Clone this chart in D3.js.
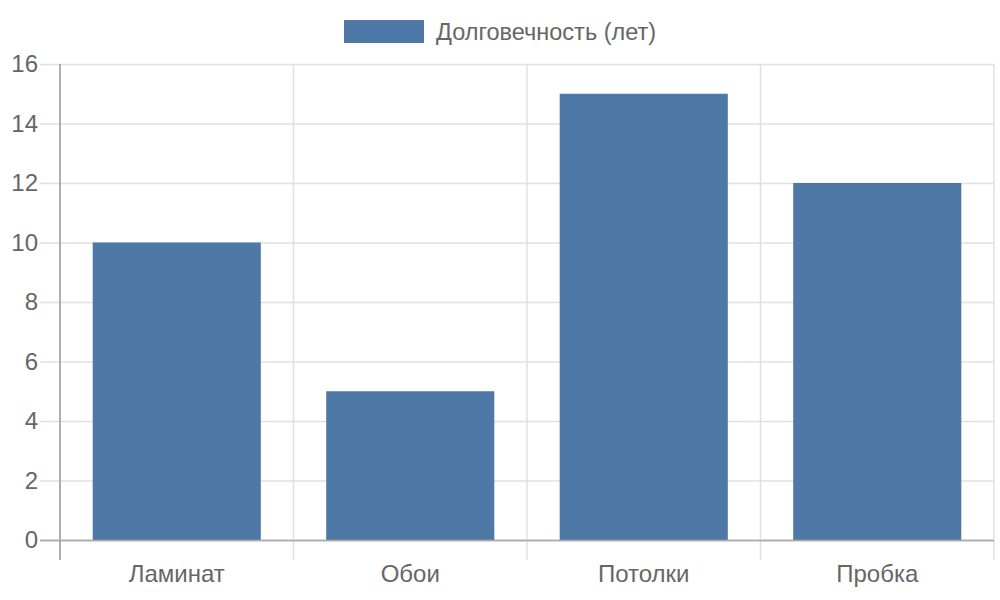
<!DOCTYPE html>
<html><head><meta charset="utf-8">
<script src="https://cdn.jsdelivr.net/npm/d3@7"></script>
<style>body{margin:0;background:#fff}text{font-family:"Liberation Sans",Arial,sans-serif}</style>
</head><body><svg id="c" width="1000" height="600"></svg>
<script>
const categories = ["Ламинат", "Обои", "Потолки", "Пробка"];
const values = [10, 5, 15, 12];
const seriesName = "Долговечность (лет)";
const yTicks = [0, 2, 4, 6, 8, 10, 12, 14, 16];

const svg = d3.select("#c");
const L = 60, R = 994, T = 64, B = 540;
const color = "#4e79a7";
const x = d3.scaleBand().domain(categories).range([L, R]).paddingInner(0).paddingOuter(0);
const y = d3.scaleLinear().domain([0, 16]).range([B, T]);

// horizontal grid
svg.append("g").selectAll("line").data(yTicks).join("line")
  .attr("x1", L - 20).attr("x2", R).attr("y1", d => y(d) + 0.5).attr("y2", d => y(d) + 0.5)
  .attr("stroke", d => d === 0 ? "#aaa" : "#e0e0e0").attr("stroke-width", 1.5);
// vertical grid
const vx = categories.map(c => x(c)).concat([R]);
svg.append("g").selectAll("line").data(vx).join("line")
  .attr("x1", d => d).attr("x2", d => d).attr("y1", T).attr("y2", B + 20)
  .attr("stroke", (d, i) => i === 0 ? "#aaa" : "#e0e0e0").attr("stroke-width", 1.5);
svg.append("line").attr("x1", L).attr("x2", L).attr("y1", T).attr("y2", B + 20).attr("stroke", "#aaa").attr("stroke-width", 1.5);

// bars
const bw = x.bandwidth() * 0.72;
svg.append("g").selectAll("rect").data(values).join("rect")
  .attr("x", (d, i) => x(categories[i]) + (x.bandwidth() - bw) / 2)
  .attr("width", bw)
  .attr("y", d => y(d)).attr("height", d => y(0) - y(d))
  .attr("fill", color);
svg.append("line").attr("x1", L - 20).attr("x2", R).attr("y1", B + 0.5).attr("y2", B + 0.5).attr("stroke", "#aaa").attr("stroke-width", 1.5);

// y labels
svg.append("g").selectAll("text").data(yTicks).join("text")
  .attr("x", 38).attr("y", d => y(d)).attr("dy", "0.35em").attr("text-anchor", "end")
  .attr("font-size", 24).attr("fill", "#666").text(d => d);
// x labels
svg.append("g").selectAll("text").data(categories).join("text")
  .attr("x", d => x(d) + x.bandwidth() / 2).attr("y", 582).attr("text-anchor", "middle")
  .attr("font-size", 24).attr("fill", "#666").text(d => d);

// legend
svg.append("rect").attr("x", 344).attr("y", 20).attr("width", 80).attr("height", 23).attr("fill", color);
svg.append("text").attr("x", 436).attr("y", 40).attr("font-size", 23.5).attr("fill", "#666").text(seriesName);
</script></body></html>
